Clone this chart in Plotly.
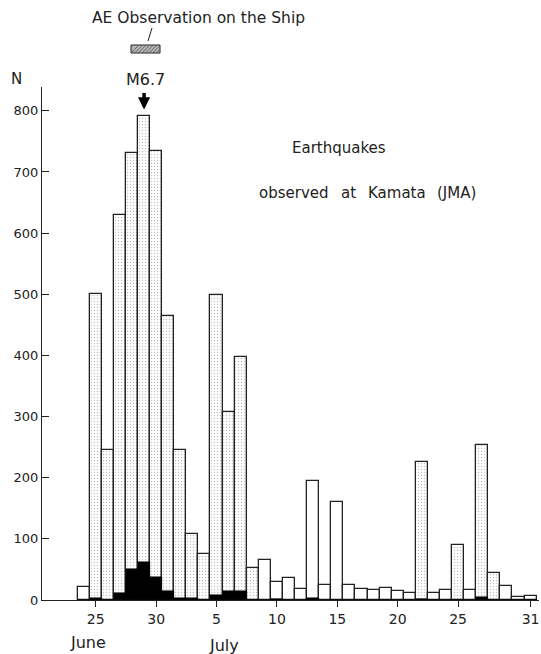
import plotly.graph_objects as go

# Day index: 0 = June 30, negative = June, positive = July
days = list(range(-6, 32))  # June 24 .. July 31
totals = [22, 500, 246, 629, 731, 792, 735, 464, 246, 108, 76,
          499, 308, 398, 53, 65, 30, 36, 18, 195, 25, 160,
          24, 18, 17, 19, 15, 12, 226, 11, 16, 90, 16, 254, 44, 23, 5, 7]
black = [0, 3, 0, 11, 50, 62, 38, 14, 4, 4, 0,
         9, 14, 14, 0, 0, 2, 0, 0, 4, 0, 0,
         0, 0, 0, 0, 0, 0, 2, 0, 0, 0, 0, 5, 0, 0, 0, 0]
stippled = [0, 1, 1, 1, 1, 1, 1, 1, 1, 1, 1,
            1, 1, 1, 1, 0, 0, 0, 0, 0, 0, 0,
            0, 0, 0, 0, 0, 0, 1, 0, 0, 1, 0, 1, 1, 0, 0, 0]
tick_vals = [-5, 0, 5, 10, 15, 20, 25, 31]
tick_text = ["25", "30", "5", "10", "15", "20", "25", "31"]
y_ticks = [0, 100, 200, 300, 400, 500, 600, 700, 800]

FONT = "DejaVu Sans"
INK = "#222"

fig = go.Figure()
fig.add_trace(go.Bar(
    x=days, y=totals, width=1,
    marker=dict(color="white",
                line=dict(color=INK, width=1.3),
                pattern=dict(shape=["." if s else "" for s in stippled],
                             fgcolor="#8a8a8a", bgcolor="white",
                             size=3, solidity=0.2)),
    showlegend=False, hoverinfo="x+y"))
fig.add_trace(go.Bar(
    x=days, y=black, width=1,
    marker=dict(color="black", line=dict(color="black", width=0.5)),
    showlegend=False))

fig.update_layout(
    width=541, height=654,
    margin=dict(l=42, r=2, t=87, b=54),
    paper_bgcolor="white", plot_bgcolor="white",
    barmode="overlay", bargap=0,
    font=dict(family=FONT, size=12, color=INK),
    xaxis=dict(range=[-9.45, 31.7], tickvals=tick_vals, ticktext=tick_text,
               ticks="outside", ticklen=6, tickcolor=INK, tickwidth=1,
               showline=True, linecolor=INK, linewidth=1.2,
               showgrid=False, zeroline=False,
               tickfont=dict(size=14, family=FONT, color=INK)),
    yaxis=dict(range=[0, 839], tickvals=y_ticks,
               ticks="inside", ticklen=7, tickcolor=INK, tickwidth=1,
               showline=True, linecolor=INK, linewidth=1.2,
               showgrid=False, zeroline=False,
               tickfont=dict(size=13, family=FONT, color=INK)),
)

def px2paper(px, py):
    return (px - 42) / 497, (600 - py) / 513

centered = [
    ("N", 16, 79, 15),
    ("M6.7", 145, 79, 16),
    ("June", 88, 642, 16),
    ("July", 224, 645, 16),
]
for txt, px, py, sz in centered:
    ax_, ay_ = px2paper(px, py)
    fig.add_annotation(text=txt, x=ax_, y=ay_, xref="paper", yref="paper",
                       xanchor="center", yanchor="middle", showarrow=False,
                       font=dict(size=sz, family=FONT, color=INK))

left = [("AE Observation on the Ship", 90, 18, 15.5),
        ("Earthquakes", 290, 148, 15),
        ("observed", 257, 193, 15),
        ("at", 339, 193, 15),
        ("Kamata", 366, 193, 15),
        ("(JMA)", 435, 193, 15)]
for txt, px, py, sz in left:
    ax_, ay_ = px2paper(px, py)
    fig.add_annotation(text=txt, x=ax_, y=ay_, xref="paper", yref="paper",
                       xanchor="left", yanchor="middle", showarrow=False,
                       font=dict(size=sz, family=FONT, color=INK))

# M6.7 arrow pointing at the June 29 bar
fig.add_annotation(x=-1, y=802, xref="x", yref="y", ax=0, ay=-18,
                   showarrow=True, arrowhead=2, arrowsize=0.7, arrowwidth=3.5,
                   arrowcolor="black", text="")

# small tick from label to the hatched box
x0, y0 = px2paper(152, 28)
x1, y1 = px2paper(148, 41)
fig.add_shape(type="line", xref="paper", yref="paper", x0=x0, y0=y0, x1=x1, y1=y1,
              line=dict(color=INK, width=1))

# hatched box (ship observation period)
bx0, by0 = px2paper(131, 53)
bx1, by1 = px2paper(160, 45)
fig.add_shape(type="rect", xref="paper", yref="paper", x0=bx0, y0=by0, x1=bx1, y1=by1,
              fillcolor="#b5b5b5", line=dict(color=INK, width=1))
for i in range(9):
    sx = 131 + i * 3.6
    ax0, ay0 = px2paper(sx, 53)
    ax1, ay1 = px2paper(min(sx + 8, 160), 45 if sx + 8 <= 160 else 53 - (160 - sx))
    fig.add_shape(type="line", xref="paper", yref="paper", x0=ax0, y0=ay0, x1=ax1, y1=ay1,
                  line=dict(color="#555", width=0.8))

fig.write_html("out.html")
